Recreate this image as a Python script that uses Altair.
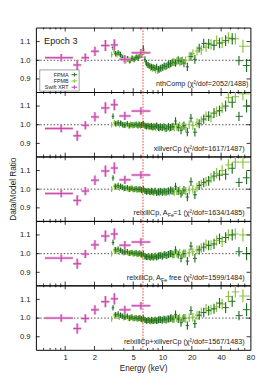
import math
import altair as alt
import pandas as pd

# ---------------- data ----------------
XRT_E = [0.91, 1.33, 1.61, 2.02, 2.59, 3.2, 4.1, 6.0]
XRT_LO = [0.62, 1.21, 1.47, 1.84, 2.34, 2.94, 3.6, 4.8]
XRT_HI = [1.2, 1.46, 1.76, 2.22, 2.85, 3.48, 4.7, 7.5]
XRT_ERR = [0.02, 0.027, 0.022, 0.025, 0.03, 0.03, 0.022, 0.02]

FPMA_E = [3.1, 3.3, 3.5, 3.7, 3.9, 4.1, 4.35, 4.6, 4.85, 5.1, 5.35, 5.6, 5.85, 6.1, 6.35,
          6.6, 6.85, 7.1, 7.4, 7.7, 8.0, 8.35, 8.7, 9.1, 9.5, 9.95, 10.4, 10.9, 11.5, 12.1,
          12.8, 13.6, 14.5, 15.5, 16.6, 18.0, 19.6, 21.5, 23.8, 26.5, 29.8, 33.8, 38.5, 44.5,
          52, 61, 73]
FPMA_ERR = [0.015, 0.015, 0.015, 0.015, 0.015, 0.015, 0.015, 0.015, 0.015, 0.015,
            0.015, 0.015, 0.016, 0.016, 0.016, 0.016, 0.016, 0.016, 0.016, 0.017,
            0.017, 0.017, 0.017, 0.018, 0.018, 0.018, 0.018, 0.019, 0.019, 0.019,
            0.02, 0.02, 0.021, 0.021, 0.022, 0.022, 0.023, 0.023, 0.024, 0.025,
            0.026, 0.027, 0.028, 0.029, 0.03, 0.025, 0.035]
FPMB_E = [3.0, 3.2, 3.4, 3.6, 3.8, 4.0, 4.2, 4.45, 4.7, 4.95, 5.2, 5.45, 5.7, 5.95, 6.2,
          6.45, 6.7, 6.95, 7.25, 7.55, 7.85, 8.15, 8.5, 8.9, 9.3, 9.7, 10.15, 10.6, 11.2, 11.8,
          12.4, 13.2, 14.0, 15.0, 16.0, 17.3, 18.8, 20.5, 22.6, 25.0, 28.0, 31.5, 36, 41,
          47.5, 56, 67]
FPMB_ERR = [0.015, 0.015, 0.015, 0.015, 0.015, 0.015, 0.015, 0.015, 0.015, 0.015,
            0.015, 0.015, 0.016, 0.016, 0.016, 0.016, 0.016, 0.016, 0.016, 0.017,
            0.017, 0.017, 0.017, 0.018, 0.018, 0.018, 0.018, 0.019, 0.019, 0.019,
            0.02, 0.02, 0.021, 0.021, 0.022, 0.022, 0.023, 0.023, 0.024, 0.025,
            0.026, 0.027, 0.028, 0.029, 0.03, 0.03, 0.035]

XRT_R = [
    [1.014, 0.975, 1.014, 1.048, 1.079, 1.082, 1.005, 1.04],
    [0.98, 0.941, 0.997, 1.042, 1.09, 1.107, 1.047, 1.073],
    [0.977, 0.94, 0.99, 1.048, 1.097, 1.113, 1.05, 1.076],
    [0.976, 0.946, 0.998, 1.047, 1.094, 1.105, 1.045, 1.062],
    [1.0, 0.944, 0.998, 1.044, 1.088, 1.103, 1.044, 1.066],
]

FPMA_R = [
    [1.068, 1.035, 1.04, 1.03, 1.015, 1.0, 1.008, 0.998, 1.01, 1.004,
     1.015, 1.012, 1.025, 1.03, 1.065, 1.005, 0.985, 0.975, 0.97, 0.965,
     0.962, 0.958, 0.965, 0.952, 0.958, 0.962, 0.97, 0.968, 0.978, 0.982,
     0.99, 0.985, 1.0, 0.995, 0.985, 0.965, 1.02, 1.005, 1.065, 1.09,
     1.088, 1.08, 1.092, 1.105, 1.115, 0.998, 0.972],
    [1.045, 1.005, 1.01, 1.008, 1.0, 0.998, 1.005, 0.995, 1.0, 0.998,
     1.002, 0.995, 1.0, 0.998, 1.005, 0.995, 0.99, 0.995, 0.99, 0.992,
     0.988, 0.99, 0.995, 0.985, 0.99, 0.985, 0.988, 0.98, 0.99, 0.985,
     0.99, 1.02, 0.985, 0.97, 0.995, 0.96, 1.035, 0.96, 1.005, 1.03,
     1.046, 1.062, 1.075, 1.1, 1.12, 1.045, 1.1],
    [1.06, 1.015, 1.02, 1.015, 1.01, 1.005, 1.008, 1.0, 1.005, 0.998,
     1.002, 0.998, 1.0, 0.995, 1.002, 0.99, 0.988, 0.99, 0.985, 0.99,
     0.985, 0.99, 0.98, 0.985, 0.988, 0.982, 0.99, 0.985, 0.99, 0.995,
     0.99, 1.015, 0.99, 0.975, 0.995, 0.958, 1.04, 0.97, 1.02, 1.035,
     1.045, 1.07, 1.075, 1.08, 1.112, 1.036, 1.061],
    [1.06, 1.02, 1.025, 1.018, 1.01, 1.008, 1.01, 1.002, 1.006, 1.0,
     1.004, 0.998, 1.002, 0.995, 1.0, 0.985, 0.982, 0.985, 0.98, 0.985,
     0.98, 0.985, 0.98, 0.988, 0.99, 0.985, 0.995, 0.99, 0.995, 1.0,
     0.995, 1.02, 0.995, 0.975, 1.0, 0.96, 1.04, 0.975, 1.02, 1.035,
     1.044, 1.052, 1.08, 1.086, 1.1, 1.01, 1.0],
    [1.055, 1.018, 1.022, 1.015, 1.01, 1.005, 1.01, 1.0, 1.005, 0.998,
     1.002, 0.997, 1.0, 0.995, 1.0, 0.99, 0.985, 0.99, 0.985, 0.99,
     0.985, 0.99, 0.985, 0.99, 0.992, 0.988, 0.995, 0.99, 0.995, 1.0,
     0.995, 1.02, 0.995, 0.975, 1.0, 0.96, 1.04, 0.97, 1.015, 1.03,
     1.04, 1.05, 1.08, 1.056, 1.09, 1.013, 1.045],
]

FPMB_R = [
    [1.03, 1.045, 1.03, 1.035, 1.02, 1.005, 0.998, 1.005, 1.0, 1.01,
     1.008, 1.018, 1.02, 1.03, 1.04, 1.045, 0.99, 0.975, 0.97, 0.96,
     0.955, 0.96, 0.948, 0.945, 0.95, 0.955, 0.96, 0.965, 0.972, 0.975,
     0.985, 0.99, 0.995, 0.992, 0.998, 1.0, 1.02, 1.035, 1.05, 1.055,
     1.07, 1.085, 1.105, 1.095, 1.12, 1.115, 1.075],
    [1.0, 1.01, 1.005, 1.0, 1.005, 0.998, 1.0, 0.995, 1.002, 0.995,
     1.0, 0.998, 1.003, 0.995, 1.0, 0.998, 0.992, 0.995, 0.988, 0.99,
     0.985, 0.992, 0.985, 0.988, 0.982, 0.985, 0.99, 0.98, 0.985, 0.982,
     0.988, 0.985, 0.99, 0.995, 0.99, 0.985, 1.0, 0.995, 1.01, 1.02,
     1.045, 1.04, 1.07, 1.09, 1.145, 1.15, 1.165],
    [1.0, 1.015, 1.01, 1.005, 1.01, 1.002, 1.005, 1.0, 1.005, 0.998,
     1.0, 0.995, 1.0, 0.998, 0.99, 0.995, 0.99, 0.985, 0.99, 0.985,
     0.988, 0.982, 0.99, 0.985, 0.98, 0.99, 0.985, 0.982, 0.988, 0.985,
     0.99, 0.985, 0.99, 0.995, 0.985, 0.99, 0.995, 1.0, 1.01, 1.025,
     1.04, 1.06, 1.085, 1.1, 1.13, 1.145, 1.145],
    [1.0, 1.02, 1.012, 1.008, 1.012, 1.005, 1.008, 1.002, 1.005, 1.0,
     1.002, 0.996, 1.0, 0.995, 0.99, 0.99, 0.985, 0.98, 0.985, 0.978,
     0.985, 0.98, 0.99, 0.985, 0.99, 0.992, 0.99, 0.995, 0.992, 0.998,
     1.0, 0.995, 1.0, 1.005, 0.995, 1.0, 1.005, 1.01, 1.02, 1.03,
     1.05, 1.045, 1.07, 1.065, 1.1, 1.105, 1.1],
    [0.995, 1.015, 1.01, 1.005, 1.01, 1.002, 1.005, 1.0, 1.004, 0.998,
     1.0, 0.995, 1.0, 0.995, 0.99, 0.992, 0.988, 0.985, 0.99, 0.982,
     0.988, 0.985, 0.99, 0.988, 0.992, 0.99, 0.995, 0.992, 0.996, 0.995,
     1.0, 0.995, 1.0, 1.002, 0.995, 0.998, 1.002, 1.005, 1.015, 1.03,
     1.05, 1.045, 1.06, 1.075, 1.115, 1.14, 1.118],
]

MODEL_CHI = ["(χ²/dof=2052/1488)", "(χ²/dof=1617/1487)", "(χ²/dof=1634/1485)",
             "(χ²/dof=1599/1484)", "(χ²/dof=1567/1483)"]
LEGEND_NAMES = ["FPMA", "FPMB", "Swift XRT"]
X_TICK_LABELS = [1, 2, 5, 10, 20, 40, 80]
X_MINOR = [0.6, 0.7, 0.8, 0.9, 3, 4, 6, 7, 8, 9, 30, 50, 60, 70]
Y_TICKS = [0.9, 1.0, 1.1]
FE_LINE = 6.3

COL = {"FPMA": "#1f6e22", "FPMB": "#86c13a", "XRT_LIGHT": "#e7a6da", "XRT": "#c23aa2"}

W, H = 223, 67
FONT = "Liberation Sans"


def edges(E, first_lo, last_hi):
    mids = [math.sqrt(E[k] * E[k + 1]) for k in range(len(E) - 1)]
    return [first_lo] + mids, mids + [last_hi]


A_LO, A_HI = edges(FPMA_E, 3.0, 79)
B_LO, B_HI = edges(FPMB_E, 2.95, 79)

rows = []
for p in range(5):
    for inst, E, lo, hi, err, vals in [
        ("FPMB", FPMB_E, B_LO, B_HI, FPMB_ERR, FPMB_R[p]),
        ("FPMA", FPMA_E, A_LO, A_HI, FPMA_ERR, FPMA_R[p]),
        ("Swift XRT", XRT_E, XRT_LO, XRT_HI, XRT_ERR, XRT_R[p]),
    ]:
        for j in range(len(E)):
            rows.append(dict(panel=p, inst=inst, E=E[j], lo=lo[j], hi=hi[j], r=vals[j],
                             rlo=vals[j] - err[j], rhi=vals[j] + err[j]))
df = pd.DataFrame(rows)

xs = alt.Scale(type="log", domain=[0.5, 80], nice=False)
ys = alt.Scale(domain=[0.83, 1.175], nice=False, zero=False)


def make_panel(p):
    bottom = p == 4
    if bottom:
        xaxis = alt.Axis(values=X_TICK_LABELS, format="~g", title="Energy (keV)", ticks=False,
                         domain=False, grid=False, labelPadding=4, titlePadding=3,
                         labelFlush=False, labelFontSize=8, titleFontSize=8.5)
    else:
        xaxis = None
    yaxis = alt.Axis(values=Y_TICKS, format=".1f", ticks=False, domain=False, grid=False,
                     labelPadding=6, titlePadding=2, labelFontSize=8, titleFontSize=8.5,
                     title="Data/Model Ratio" if p == 2 else None)

    def X(f):
        return alt.X(f, type="quantitative", scale=xs, axis=xaxis)

    def Y(f):
        return alt.Y(f, type="quantitative", scale=ys, axis=yaxis)

    d = df[df.panel == p]
    layers = []
    layers.append(alt.Chart(pd.DataFrame({"v": [1.0]})).mark_rule(
        color="#333", strokeDash=[1.5, 2], strokeWidth=0.9).encode(y=Y("v")))
    for inst in ["FPMB", "FPMA"]:
        di = d[d.inst == inst]
        c = COL[inst]
        layers.append(alt.Chart(di).mark_rule(color=c, strokeWidth=1, clip=True).encode(
            x=X("lo"), x2="hi", y=Y("r")))
        layers.append(alt.Chart(di).mark_rule(color=c, strokeWidth=1.2, clip=True).encode(
            x=X("E"), y=Y("rlo"), y2="rhi"))
    layers.append(alt.Chart(pd.DataFrame({"e": [FE_LINE]})).mark_rule(
        color="#e8302a", strokeDash=[1.5, 1.5], strokeWidth=1).encode(x=X("e")))
    dx = d[d.inst == "Swift XRT"]
    for c, sw in [(COL["XRT_LIGHT"], 2.6), (COL["XRT"], 0.9)]:
        layers.append(alt.Chart(dx).mark_rule(color=c, strokeWidth=sw, clip=True).encode(
            x=X("lo"), x2="hi", y=Y("r")))
        layers.append(alt.Chart(dx).mark_rule(color=c, strokeWidth=sw, clip=True).encode(
            x=X("E"), y=Y("rlo"), y2="rhi"))

    # inward ticks
    maj = pd.DataFrame({"t": X_TICK_LABELS[:-1]})
    mnr = pd.DataFrame({"t": X_MINOR})
    for dd, ln in [(maj, 4), (mnr, 2)]:
        layers.append(alt.Chart(dd).mark_rule(color="black", strokeWidth=0.8).encode(
            x=X("t"), y=alt.value(0), y2=alt.value(ln)))
        layers.append(alt.Chart(dd).mark_rule(color="black", strokeWidth=0.8).encode(
            x=X("t"), y=alt.value(H - ln), y2=alt.value(H)))
    yt = pd.DataFrame({"t": Y_TICKS})
    layers.append(alt.Chart(yt).mark_rule(color="black", strokeWidth=0.8).encode(
        y=Y("t"), x=alt.value(0), x2=alt.value(4)))
    layers.append(alt.Chart(yt).mark_rule(color="black", strokeWidth=0.8).encode(
        y=Y("t"), x=alt.value(W - 4), x2=alt.value(W)))

    # model label
    txt = dict(fontSize=7.5, font=FONT, color="#222", baseline="alphabetic")
    ybase = 61
    if p == 0:
        layers.append(alt.Chart().mark_text(align="right", **txt).encode(
            x=alt.value(221), y=alt.value(ybase), text=alt.value("nthComp " + MODEL_CHI[0])))
    elif p == 1:
        layers.append(alt.Chart().mark_text(align="right", **txt).encode(
            x=alt.value(217), y=alt.value(ybase), text=alt.value("xillverCp " + MODEL_CHI[1])))
    elif p == 4:
        layers.append(alt.Chart().mark_text(align="right", **txt).encode(
            x=alt.value(217), y=alt.value(ybase),
            text=alt.value("relxillCp+xillverCp " + MODEL_CHI[4])))
    else:
        right = ("=1  " if p == 2 else "free ") + MODEL_CHI[p]
        rw = 73.5 if p == 2 else 80.5
        layers.append(alt.Chart().mark_text(align="right", **txt).encode(
            x=alt.value(217), y=alt.value(ybase), text=alt.value(right)))
        sub = dict(txt)
        sub["fontSize"] = 5.5
        layers.append(alt.Chart().mark_text(align="right", **sub).encode(
            x=alt.value(217 - rw), y=alt.value(ybase + 2), text=alt.value("Fe")))
        layers.append(alt.Chart().mark_text(align="right", **txt).encode(
            x=alt.value(217 - rw - 6.6), y=alt.value(ybase), text=alt.value("relxillCp, A")))

    if p == 0:
        layers.append(alt.Chart().mark_text(align="left", fontSize=9.5, font=FONT,
                                            color="#222", baseline="alphabetic").encode(
            x=alt.value(8.5), y=alt.value(17.5), text=alt.value("Epoch 3")))
        layers.append(alt.Chart().mark_rect(fill="white", stroke="#777",
                                            strokeWidth=0.7).encode(
            x=alt.value(4), x2=alt.value(45), y=alt.value(44), y2=alt.value(66)))
        legcols = [COL["FPMA"], COL["FPMB"], COL["XRT"]]
        for k, name in enumerate(LEGEND_NAMES):
            ry = 49 + 6.5 * k
            layers.append(alt.Chart().mark_text(align="right", fontSize=5.6, font=FONT,
                                                color="#222", baseline="middle").encode(
                x=alt.value(34), y=alt.value(ry), text=alt.value(name)))
            layers.append(alt.Chart().mark_rule(color=legcols[k], strokeWidth=1).encode(
                x=alt.value(37), x2=alt.value(43), y=alt.value(ry)))
            layers.append(alt.Chart().mark_rule(color=legcols[k], strokeWidth=1).encode(
                x=alt.value(40), y=alt.value(ry - 2), y2=alt.value(ry + 2)))

    return alt.layer(*layers).properties(width=W, height=H)


chart = alt.vconcat(*[make_panel(p) for p in range(5)], spacing=0, bounds="flush").properties(
    padding={"left": 0, "top": 12, "right": 6, "bottom": 0}
).configure_view(stroke="black", strokeWidth=1).configure_axis(
    labelFont=FONT, titleFont=FONT, labelColor="#222", titleColor="#222",
    titleFontWeight="normal"
).configure_text(font=FONT)

chart.save("out.html", embed_options={"renderer": "svg", "actions": False})
